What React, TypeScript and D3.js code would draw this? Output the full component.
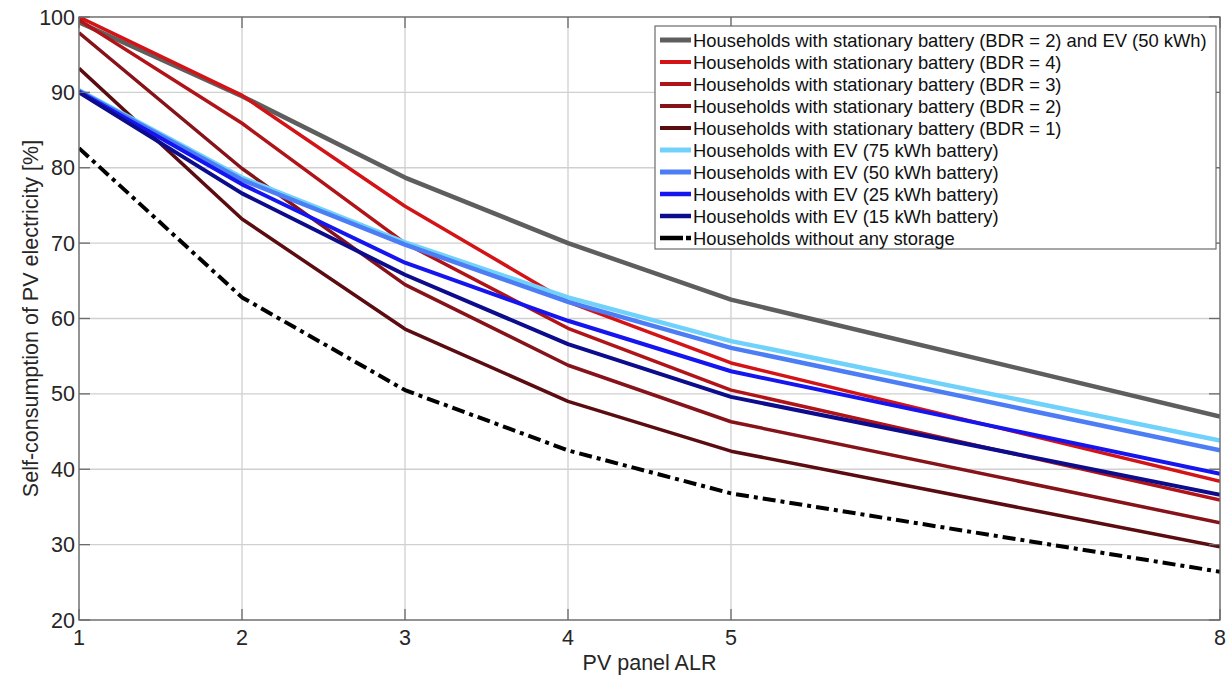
import React from "react";
import * as d3 from "d3";

const alr = [1, 2, 3, 4, 5, 8];
const xTicks = [1, 2, 3, 4, 5, 8];
const yTicks = [20, 30, 40, 50, 60, 70, 80, 90, 100];

const seriesNames = [
  "Households with stationary battery (BDR = 2) and EV (50 kWh)",
  "Households with stationary battery (BDR = 4)",
  "Households with stationary battery (BDR = 3)",
  "Households with stationary battery (BDR = 2)",
  "Households with stationary battery (BDR = 1)",
  "Households with EV (75 kWh battery)",
  "Households with EV (50 kWh battery)",
  "Households with EV (25 kWh battery)",
  "Households with EV (15 kWh battery)",
  "Households without any storage",
];

const bdr2Ev50 = [99.3, 89.5, 78.7, 70.0, 62.5, 47.0];
const bdr4 = [100.0, 89.6, 74.9, 62.2, 54.1, 38.4];
const bdr3 = [99.6, 85.9, 70.0, 58.7, 50.5, 35.9];
const bdr2 = [97.9, 79.9, 64.5, 53.8, 46.3, 32.9];
const bdr1 = [93.2, 73.2, 58.6, 49.0, 42.4, 29.7];
const ev75 = [90.3, 78.7, 70.1, 62.8, 57.0, 43.8];
const ev50 = [90.2, 78.4, 69.8, 62.2, 56.1, 42.5];
const ev25 = [90.1, 77.8, 67.4, 59.7, 53.0, 39.4];
const ev15 = [90.0, 76.6, 65.8, 56.6, 49.6, 36.6];
const noStorage = [82.6, 62.8, 50.5, 42.5, 36.8, 26.4];

const seriesValues = [bdr2Ev50, bdr4, bdr3, bdr2, bdr1, ev75, ev50, ev25, ev15, noStorage];
const colors = ["#5e5e5e", "#d41317", "#b01418", "#86121a", "#5a0c10", "#70d2fa", "#4d7df5", "#1515f0", "#0c0c8c", "#000000"];
const widths = [4.5, 3.5, 3.5, 3.5, 3.5, 4.5, 4.5, 4, 4, 4];

export default function App() {
  const W = 1229, H = 678;
  const left = 79, right = 1220, top = 17, bottom = 620;
  const x = d3.scaleLinear().domain([1, 8]).range([left, right]);
  const y = d3.scaleLinear().domain([20, 100]).range([bottom, top]);
  const line = d3.line<number>().x((_, i) => x(alr[i])).y((d) => y(d));
  const font = "'Liberation Sans', Arial, sans-serif";
  const legX = 655, legY = 26, legW = 561, legH = 223, rowH = 22;
  const txt = "#262626";

  return (
    <svg width={W} height={H} style={{ position: "absolute", left: 0, top: 0, background: "#fff" }} fontFamily={font}>
      <defs>
        <clipPath id="plot">
          <rect x={left} y={top} width={right - left} height={bottom - top} />
        </clipPath>
      </defs>
      {/* grid */}
      {xTicks.map((t) => (
        <line key={"gx" + t} x1={x(t)} x2={x(t)} y1={top} y2={bottom} stroke="#d0d0d0" strokeWidth={1.3} />
      ))}
      {yTicks.map((t) => (
        <line key={"gy" + t} x1={left} x2={right} y1={y(t)} y2={y(t)} stroke="#d0d0d0" strokeWidth={1.3} />
      ))}
      {/* lines */}
      <g clipPath="url(#plot)">
        {seriesValues.map((vals, i) => (
          <path
            key={i}
            d={line(vals) || ""}
            fill="none"
            stroke={colors[i]}
            strokeWidth={widths[i]}
            strokeLinejoin="round"
            strokeDasharray={i === 9 ? "13,5,4,5" : undefined}
          />
        ))}
      </g>
      {/* box */}
      <rect x={left} y={top} width={right - left} height={bottom - top} fill="none" stroke="#6b6b6b" strokeWidth={1.3} />
      {/* ticks */}
      {xTicks.map((t) => (
        <g key={"tx" + t}>
          <line x1={x(t)} x2={x(t)} y1={bottom} y2={bottom - 11} stroke="#6b6b6b" strokeWidth={1.3} />
          <line x1={x(t)} x2={x(t)} y1={top} y2={top + 11} stroke="#6b6b6b" strokeWidth={1.3} />
          <text x={x(t)} y={bottom + 25} textAnchor="middle" fontSize={21.5} fill={txt}>{t}</text>
        </g>
      ))}
      {yTicks.map((t) => (
        <g key={"ty" + t}>
          <line x1={left} x2={left + 11} y1={y(t)} y2={y(t)} stroke="#6b6b6b" strokeWidth={1.3} />
          <line x1={right} x2={right - 11} y1={y(t)} y2={y(t)} stroke="#6b6b6b" strokeWidth={1.3} />
          <text x={left - 4} y={y(t) + 7.5} textAnchor="end" fontSize={21.5} fill={txt}>{t}</text>
        </g>
      ))}
      {/* axis titles */}
      <text x={(left + right) / 2} y={670} textAnchor="middle" fontSize={21.5} fill={txt}>PV panel ALR</text>
      <text transform={`translate(38,${(top + bottom) / 2}) rotate(-90)`} textAnchor="middle" fontSize={21.5} fill={txt}>
        Self-consumption of PV electricity [%]
      </text>
      {/* legend */}
      <rect x={legX} y={legY} width={legW} height={legH} fill="#fff" stroke="#6b6b6b" strokeWidth={1.2} />
      {seriesNames.map((name, i) => {
        const ry = legY + 14 + i * rowH;
        return (
          <g key={"leg" + i}>
            {i === 9 ? (
              <g>
                <line x1={660} x2={683} y1={ry} y2={ry} stroke="#000" strokeWidth={4.5} />
                <line x1={686} x2={691} y1={ry} y2={ry} stroke="#000" strokeWidth={4.5} />
              </g>
            ) : (
              <line x1={660} x2={691} y1={ry} y2={ry} stroke={colors[i]} strokeWidth={widths[i] + 0.5} />
            )}
            <text x={693} y={ry + 6.5} fontSize={18.4} fill="#111">{name}</text>
          </g>
        );
      })}
    </svg>
  );
}
